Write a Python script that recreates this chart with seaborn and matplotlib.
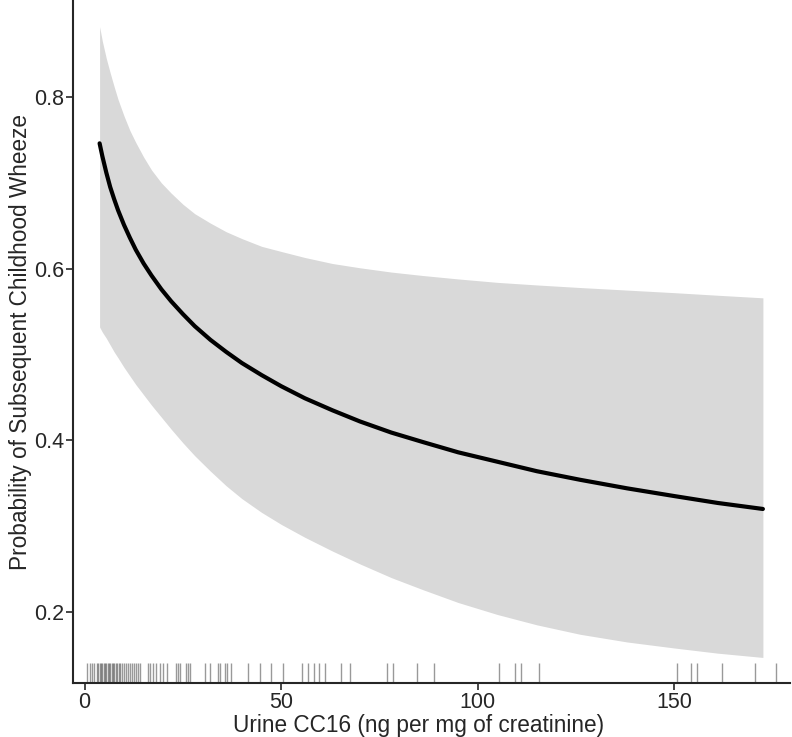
import numpy as np
import pandas as pd
import matplotlib
matplotlib.use("Agg")
import matplotlib.pyplot as plt
import seaborn as sns

# fitted curve and 95% band
cc16 = [3.8, 4.5, 5.5, 6.5, 7.5, 8.5, 10, 11.5, 13, 15, 17, 19.5, 22, 25, 28, 32, 36, 40, 45, 50,
        56, 63, 70, 78, 86, 95, 105, 115, 126, 138, 150, 161, 172.5]
prob = [0.746, 0.731, 0.712, 0.695, 0.681, 0.668, 0.651, 0.636, 0.622, 0.606, 0.592, 0.576, 0.562,
        0.547, 0.533, 0.517, 0.503, 0.490, 0.476, 0.463, 0.449, 0.435, 0.422, 0.409, 0.398, 0.386,
        0.375, 0.364, 0.354, 0.344, 0.335, 0.327, 0.320]
upper = [0.882, 0.865, 0.845, 0.828, 0.812, 0.797, 0.778, 0.761, 0.747, 0.730, 0.715, 0.700, 0.688,
         0.675, 0.664, 0.653, 0.643, 0.635, 0.626, 0.620, 0.613, 0.606, 0.601, 0.596, 0.592, 0.588,
         0.584, 0.581, 0.578, 0.575, 0.572, 0.569, 0.566]
lower = [0.532, 0.526, 0.519, 0.511, 0.503, 0.496, 0.485, 0.475, 0.465, 0.453, 0.441, 0.427, 0.413,
         0.397, 0.382, 0.364, 0.347, 0.332, 0.316, 0.302, 0.287, 0.271, 0.256, 0.240, 0.226, 0.211,
         0.197, 0.185, 0.174, 0.165, 0.158, 0.152, 0.147]

# observed CC16 values (rug)
rug_x = [0.59, 1.27, 1.86, 2.47, 3.13, 3.49, 3.82, 4.15, 4.50, 4.83, 5.17, 5.52, 5.85, 6.18, 6.54, 6.87,
         7.20, 7.56, 7.89, 8.22, 8.65, 9.08, 9.49, 9.92, 10.43, 10.94, 11.45, 12.04, 12.47, 13.16, 13.66,
         14.17, 16.21, 16.72, 17.38, 18.24, 19.08, 19.85, 20.94, 23.33, 23.84, 24.35, 25.88, 26.39, 26.90,
         30.71, 31.81, 34.02, 34.35, 35.62, 36.21, 37.15, 41.55, 44.71, 47.51, 50.46, 55.29, 56.82, 58.27,
         59.62, 61.07, 65.32, 67.43, 76.77, 78.45, 84.40, 88.88, 105.34, 109.41, 110.94, 115.52, 150.56,
         154.20, 155.65, 162.16, 170.48, 175.75]

df = pd.DataFrame({"cc16": cc16, "prob": prob, "upper": upper, "lower": lower})

sns.set_style("ticks")
plt.rcParams["font.family"] = ["Liberation Sans", "DejaVu Sans"]

fig = plt.figure(figsize=(7.92, 7.37), dpi=100)
ax = fig.add_axes([0.092, 0.073, 0.906, 0.927])

ax.fill_between(df["cc16"], df["lower"], df["upper"], color="#d9d9d9", linewidth=0)
sns.lineplot(data=df, x="cc16", y="prob", color="black", linewidth=3, ax=ax)
sns.rugplot(x=rug_x, height=0.03, color="black", alpha=0.4, linewidth=1, ax=ax)

ax.set_xlim(-3, 179.5)
ax.set_ylim(0.117, 0.913)
ax.set_xticks([0, 50, 100, 150])
ax.set_yticks([0.2, 0.4, 0.6, 0.8])
ax.set_xlabel("Urine CC16 (ng per mg of creatinine)", fontsize=16.3, labelpad=1)
ax.xaxis.label.set_x(0.482)
ax.set_ylabel("Probability of Subsequent Childhood Wheeze", fontsize=16.3, labelpad=2)
ax.tick_params(labelsize=15.5, length=5, width=1.2, pad=1)
sns.despine(ax=ax)
for s in ["left", "bottom"]:
    ax.spines[s].set_linewidth(1.5)

fig.savefig("out.png", dpi=100)
